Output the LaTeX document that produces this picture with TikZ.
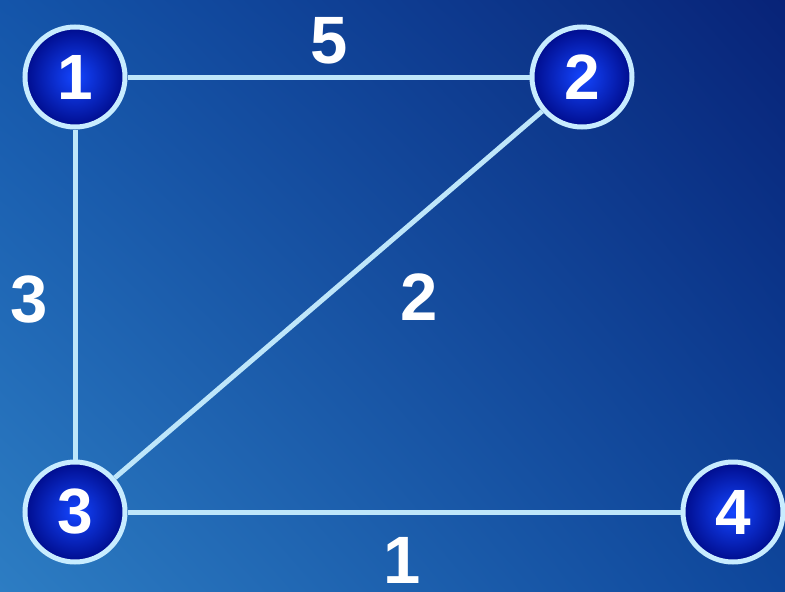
\documentclass[tikz,border=0pt]{standalone}
\usepackage{fontspec}
\setmainfont{Liberation Sans}
\usetikzlibrary{shadings}
\definecolor{bgUL}{RGB}{20,85,170}
\definecolor{bgUR}{RGB}{8,35,120}
\definecolor{bgLL}{RGB}{45,125,195}
\definecolor{bgLR}{RGB}{14,70,155}
\definecolor{ringc}{RGB}{200,236,255}
\definecolor{edgec}{RGB}{190,230,250}
\definecolor{ballin}{RGB}{20,70,255}
\definecolor{ballout}{RGB}{0,12,140}
\begin{document}
\begin{tikzpicture}[x=1pt,y=-1pt,
  vert/.style={circle,draw=ringc,line width=5pt,
    inner color=ballin,outer color=ballout,
    minimum size=100pt,inner sep=0pt,text=white,font=\fontsize{64}{64}\selectfont\bfseries},
  edge/.style={draw=edgec,line width=5pt},
  wlabel/.style={text=white,font=\fontsize{67}{67}\selectfont\bfseries,inner sep=0pt,text depth=0pt}]
\useasboundingbox (0,0) rectangle (785,592);
\shade[upper left=bgUL,upper right=bgUR,lower left=bgLL,lower right=bgLR]
  (0,0) rectangle (785,592);
\node[vert] (n1) at (75,77) {1};
\node[vert] (n2) at (582,77) {2};
\node[vert] (n3) at (75,512) {3};
\node[vert] (n4) at (733,512) {4};
\draw[edge] (n1) -- (n2);
\draw[edge] (n1) -- (n3);
\draw[edge] (n2) -- (n3);
\draw[edge] (n3) -- (n4);
\node[wlabel,anchor=base] (l5) at (329,63) {5};
\node[wlabel,anchor=base] (l3) at (29,322) {3};
\node[wlabel,anchor=base] (l2) at (419,320) {2};
\node[wlabel,anchor=base] (l1) at (402,583) {1};
\end{tikzpicture}
\end{document}
